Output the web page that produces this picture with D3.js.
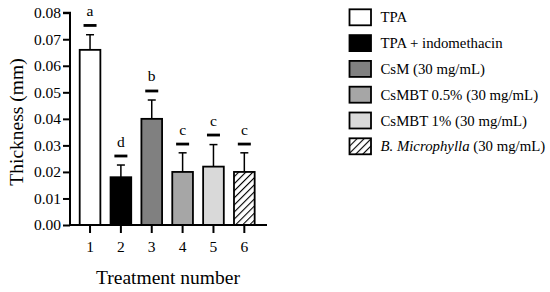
<!DOCTYPE html>
<html><head><meta charset="utf-8">
<script src="https://cdn.jsdelivr.net/npm/d3@7"></script>
<style>html,body{margin:0;padding:0;background:#fff;}svg{display:block;}</style>
</head><body>
<svg id="c" width="550" height="292"></svg>
<script>
const categories = ["1","2","3","4","5","6"];
const groupNames = ["TPA","TPA + indomethacin","CsM (30 mg/mL)","CsMBT 0.5% (30 mg/mL)","CsMBT 1% (30 mg/mL)","B. Microphylla"];
const means = [0.066, 0.018, 0.040, 0.020, 0.022, 0.020];
const errors = [0.0057, 0.0046, 0.0071, 0.0072, 0.0083, 0.0072];
const letterLevels = [0.0752, 0.026, 0.0505, 0.0305, 0.0339, 0.0305];
const letters = ["a","d","b","c","c","c"];
const fills = ["#ffffff","#000000","#808080","#a6a6a6","#d9d9d9","url(#hatch)"];
const yTicks = [0,0.01,0.02,0.03,0.04,0.05,0.06,0.07,0.08];

const FONT = "Liberation Serif";
const svg = d3.select("#c").attr("font-family", FONT);
const defs = svg.append("defs");
const pat = defs.append("pattern").attr("id","hatch").attr("patternUnits","userSpaceOnUse")
  .attr("width",5).attr("height",5).attr("patternTransform","rotate(45)");
pat.append("rect").attr("width",5).attr("height",5).attr("fill","#fff");
pat.append("line").attr("x1",0).attr("y1",0).attr("x2",0).attr("y2",5).attr("stroke","#000").attr("stroke-width",2.2);

const x0 = 70, x1 = 267, yBottom = 225, yTop = 12.7;
const x = d3.scaleBand().domain(categories).range([x0, x1]).paddingInner(0.33).paddingOuter(0.357).align(0.44);
const y = d3.scaleLinear().domain([0, 0.08]).range([yBottom, yTop]);

const g = svg.append("g");
g.selectAll("rect.bar").data(means).join("rect").attr("class","bar")
  .attr("x",(d,i)=>x(categories[i])).attr("width",x.bandwidth())
  .attr("y",d=>y(d)).attr("height",d=>yBottom-y(d))
  .attr("fill",(d,i)=>fills[i]).attr("stroke","#000").attr("stroke-width",1.8);
const cx = i => x(categories[i]) + x.bandwidth()/2;
g.selectAll("line.err").data(means).join("line").attr("class","err")
  .attr("x1",(d,i)=>cx(i)).attr("x2",(d,i)=>cx(i))
  .attr("y1",d=>y(d)).attr("y2",(d,i)=>y(d+errors[i]))
  .attr("stroke","#000").attr("stroke-width",1.5);
g.selectAll("line.cap").data(means).join("line").attr("class","cap")
  .attr("x1",(d,i)=>cx(i)-4).attr("x2",(d,i)=>cx(i)+4)
  .attr("y1",(d,i)=>y(d+errors[i])).attr("y2",(d,i)=>y(d+errors[i]))
  .attr("stroke","#000").attr("stroke-width",1.5);
g.selectAll("line.sig").data(letterLevels).join("line").attr("class","sig")
  .attr("x1",(d,i)=>cx(i)-6.5).attr("x2",(d,i)=>cx(i)+6.5)
  .attr("y1",d=>y(d)).attr("y2",d=>y(d))
  .attr("stroke","#000").attr("stroke-width",2.8);
g.selectAll("text.sig").data(letterLevels).join("text").attr("class","sig")
  .attr("x",(d,i)=>cx(i)).attr("y",d=>y(d)-9.5).attr("font-family",FONT)
  .attr("text-anchor","middle").attr("font-size",15.5).text((d,i)=>letters[i]);

const yAxis = svg.append("g").attr("transform",`translate(${x0},0)`)
  .call(d3.axisLeft(y).tickValues(yTicks).tickFormat(d3.format(".2f")).tickSize(7).tickPadding(2));
const xAxis = svg.append("g").attr("transform",`translate(0,${yBottom})`)
  .call(d3.axisBottom(x).tickSize(8).tickPadding(8));
[yAxis,xAxis].forEach(a=>{
  a.attr("font-family",FONT).attr("font-size",15.5);
  a.select(".domain").attr("stroke","#000").attr("stroke-width",2);
  a.selectAll(".tick line").attr("stroke","#000").attr("stroke-width",2);
  a.selectAll(".tick text").attr("font-family",FONT).attr("font-size",15.5).attr("fill","#000");
});
yAxis.select(".domain").attr("d",`M-7,${yTop}H0V${yBottom}`);
xAxis.select(".domain").attr("d",`M${x0},0H${x1}`);

svg.append("text").attr("transform","translate(16,122) rotate(-90)").attr("text-anchor","middle")
  .attr("font-family",FONT).attr("dominant-baseline","central").attr("font-size",19.5).text("Thickness (mm)");
svg.append("text").attr("x",168).attr("y",284).attr("text-anchor","middle")
  .attr("font-family",FONT).attr("font-size",19.5).text("Treatment number");

const lg = svg.append("g");
const rowY = i => 17.3 + i*25.8;
lg.selectAll("rect").data(groupNames).join("rect")
  .attr("x",349.5).attr("y",(d,i)=>rowY(i)-8).attr("width",21.5).attr("height",16)
  .attr("fill",(d,i)=>fills[i]).attr("stroke","#000").attr("stroke-width",1.8);
const lt = lg.selectAll("text").data(groupNames).join("text")
  .attr("x",380.5).attr("y",(d,i)=>rowY(i)+5).attr("font-family",FONT).attr("font-size",14.8);
lt.each(function(d,i){
  const t = d3.select(this);
  if (i === 5) {
    t.append("tspan").attr("font-style","italic").text(d);
    t.append("tspan").text(" (30 mg/mL)");
  } else t.text(d);
});
</script>
</body></html>
